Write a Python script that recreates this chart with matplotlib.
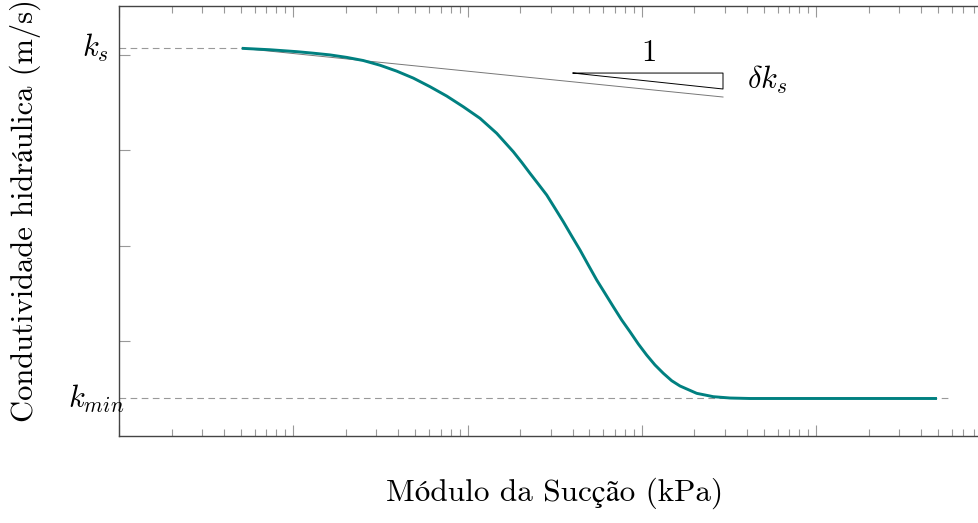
import numpy as np
import matplotlib.pyplot as plt
from matplotlib import transforms

plt.rcParams['mathtext.fontset'] = 'cm'
plt.rcParams['axes.unicode_minus'] = False

# curve (suction kPa, conductivity arbitrary units)
suc = [0.0506, 0.0735, 0.1046, 0.1302, 0.1624, 0.2025, 0.2522, 0.3143,
       0.3920, 0.4882, 0.6087, 0.7589, 0.9447, 1.178, 1.469, 1.829, 2.044,
       2.280, 2.544, 2.843, 3.172, 3.541, 3.956, 4.415, 4.926, 5.504, 6.143,
       6.853, 7.658, 8.545, 9.537, 10.65, 11.89, 13.27, 14.83, 16.54, 20.63,
       25.68, 32.03, 41.71, 80.7, 156.3, 302.7, 493.3]
k = [4.065, 4.050, 4.030, 4.014, 3.996, 3.970, 3.937, 3.888,
     3.826, 3.753, 3.663, 3.565, 3.453, 3.332, 3.175, 2.982, 2.871,
     2.756, 2.644, 2.529, 2.390, 2.249, 2.099, 1.953, 1.796, 1.639, 1.499,
     1.359, 1.220, 1.097, 0.969, 0.853, 0.749, 0.662, 0.584, 0.529, 0.452,
     0.417, 0.403, 0.398, 0.398, 0.398, 0.398, 0.398]

k_s = 4.065
k_min = 0.398

# tangent line at k_s
tan_x = [0.0506, 29.2]
tan_y = [4.065, 3.555]

# slope triangle
tri_x = [4.025, 29.2, 29.2, 4.025]
tri_y = [3.806, 3.806, 3.639, 3.806]

serif = ['cmr10', 'STIXGeneral']

fig = plt.figure(figsize=(9.79, 5.23), dpi=100)
ax = fig.add_axes([0.1216, 0.1654, 0.8901, 0.8231])
ax.set_xscale('log')
ax.set_xlim(0.01, 1000)
ax.set_ylim(0, 4.508)

ax.plot([0.01, suc[0]], [k_s, k_s], color='#999999', lw=0.8, dashes=(6, 4))
ax.plot([0.01, 586], [k_min, k_min], color='#999999', lw=0.8, dashes=(6, 4))
ax.plot(tan_x, tan_y, color='#777777', lw=0.7)
ax.plot(tri_x, tri_y, color='black', lw=0.7)
ax.plot(suc, k, color='#008080', lw=2.1, solid_capstyle='butt')

ax.text(10.84, 4.026, '$1$', fontsize=22, ha='center', va='center')
ax.text(40.0, 3.733, r'$\delta k_s$', fontsize=22, ha='left', va='center')

trans = transforms.blended_transform_factory(fig.transFigure, ax.transData)
ax.text(109 / 979, k_s, '$k_s$', fontsize=22, ha='right', va='center', transform=trans)
ax.text(124 / 979, k_min, '$k_{min}$', fontsize=22, ha='right', va='center', transform=trans)

ax.set_yticks([1, 2, 3, 4])
ax.set_yticklabels([])
ax.xaxis.set_major_formatter(plt.NullFormatter())
ax.xaxis.set_minor_formatter(plt.NullFormatter())
ax.tick_params(which='both', direction='in', top=True, right=True, color='#999999')
ax.tick_params(which='major', length=7.8, width=0.8)
ax.tick_params(which='minor', length=5, width=0.8)

for sp in ax.spines.values():
    sp.set_color('#444444')
    sp.set_linewidth(1.0)

ax.set_xlabel('Módulo da Sucção (kPa)', family=serif, fontsize=22.5, labelpad=26)
fig.text(25 / 979, 1 - 210 / 523, 'Condutividade hidráulica (m/s)', family=serif,
         fontsize=22, rotation=90, ha='center', va='center')

plt.savefig('out.png', dpi=100)
